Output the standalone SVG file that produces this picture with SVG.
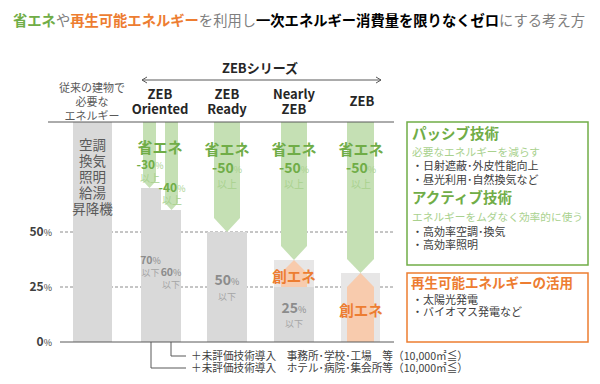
<svg xmlns="http://www.w3.org/2000/svg" width="600" height="384" viewBox="0 0 600 384">
<defs>
<style>
text{font-family:"Noto Sans CJK JP","Liberation Sans",sans-serif;}
.c{text-anchor:middle;}
.hd{font-size:13px;font-weight:bold;fill:#262626;}
.gt{fill:#70ad47;font-weight:bold;}
.gl{fill:#a9d18e;font-size:10px;}
.ot{fill:#ed7d31;font-weight:bold;}
.grt{fill:#8c8c8c;font-weight:bold;}
.grl{fill:#a6a6a6;font-size:9px;}
.ax{font-size:12px;font-weight:bold;fill:#404040;}
.pc{font-size:9px;font-weight:normal;}
.bar{fill:#d9d9d9;}
.barl{fill:#e7e6e6;}
.garr{fill:#c5e0b4;}
.oarr{fill:#f8cbad;}
.grid{stroke:#8c8c8c;stroke-width:1;stroke-dasharray:3 2;}
.ln{stroke:#595959;stroke-width:1;fill:none;}
.bx{font-size:11px;fill:#404040;}
.bl{font-size:10.7px;fill:#a9d18e;}
</style>
<marker id="chev" markerWidth="8" markerHeight="8" refX="6" refY="4" orient="auto-start-reverse" markerUnits="userSpaceOnUse">
<path d="M1,1 L6,4 L1,7" fill="none" stroke="#595959" stroke-width="1"/>
</marker>
</defs>
<rect width="600" height="384" fill="#ffffff"/>

<g id="title">
<text x="299" y="26" class="c" font-size="14.3" fill="#7f7f7f"><tspan fill="#70ad47" font-weight="bold">省エネ</tspan>や<tspan fill="#ed7d31" font-weight="bold">再生可能エネルギー</tspan>を利用し<tspan fill="#000000" font-weight="bold">一次エネルギー消費量を限りなくゼロ</tspan>にする考え方</text>
</g>

<g id="series-header">
<text x="260" y="73" class="c hd">ZEBシリーズ</text>
<text x="92" y="92" class="c" font-size="11" fill="#595959">従来の建物で</text>
<text x="92" y="106" class="c" font-size="11" fill="#595959">必要な</text>
<text x="92" y="120" class="c" font-size="11" fill="#595959">エネルギー</text>
<text x="160" y="99" class="c hd">ZEB</text>
<text x="160" y="114" class="c hd">Oriented</text>
<text x="227" y="99" class="c hd">ZEB</text>
<text x="227" y="114" class="c hd">Ready</text>
<text x="294" y="99" class="c hd">Nearly</text>
<text x="294" y="114" class="c hd">ZEB</text>
<text x="362" y="106" class="c hd">ZEB</text>
</g>

<g id="grid">
<line x1="60" y1="232" x2="395" y2="232" class="grid"/>
<line x1="60" y1="287" x2="395" y2="287" class="grid"/>
<text x="52" y="236" class="ax" text-anchor="end">50<tspan class="pc">%</tspan></text>
<text x="52" y="291" class="ax" text-anchor="end">25<tspan class="pc">%</tspan></text>
<text x="52" y="346" class="ax" text-anchor="end">0<tspan class="pc">%</tspan></text>
</g>

<g id="conventional">
<rect x="73" y="122" width="39" height="220" class="bar"/>
<text class="c" font-size="13.5" fill="#595959"><tspan x="92.5" y="150">空調</tspan><tspan x="92.5" y="166">換気</tspan><tspan x="92.5" y="182">照明</tspan><tspan x="92.5" y="198">給湯</tspan><tspan x="92.5" y="214">昇降機</tspan></text>
</g>

<g id="zeb-oriented">
<rect x="141" y="188" width="20" height="154" class="bar"/>
<rect x="161" y="210" width="20" height="132" class="bar"/>
<polygon points="143,122 156,122 156,181 149.5,188 143,181" class="garr"/>
<polygon points="165,122 178,122 178,203 171.5,210 165,203" class="garr"/>
<text x="160" y="153" class="c gt" font-size="15">省エネ</text>
<text x="150" y="169" class="c gt" font-size="12">-30<tspan class="pc" fill="#a9d18e">%</tspan></text>
<text x="150" y="182" class="c gl">以上</text>
<text x="172" y="192" class="c gt" font-size="12">-40<tspan class="pc" fill="#a9d18e">%</tspan></text>
<text x="172" y="204" class="c gl">以上</text>
<text x="150.5" y="264" class="c grt" font-size="10.5">70<tspan class="pc" font-size="8">%</tspan></text>
<text x="150.5" y="276" class="c grl">以下</text>
<text x="171" y="276" class="c grt" font-size="10.5">60<tspan class="pc" font-size="8">%</tspan></text>
<text x="171" y="288" class="c grl">以下</text>
</g>

<g id="zeb-ready">
<rect x="207" y="232" width="40" height="110" class="bar"/>
<polygon points="214,122 240,122 240,218 227,232 214,218" class="garr"/>
<text x="227" y="155" class="c gt" font-size="15">省エネ</text>
<text x="227" y="173" class="c gt" font-size="14">-50<tspan class="pc" font-size="10" fill="#a9d18e">%</tspan></text>
<text x="227" y="188" class="c gl" font-size="12">以上</text>
<text x="227" y="285" class="c grt" font-size="14">50<tspan class="pc" font-size="10">%</tspan></text>
<text x="227" y="300" class="c grl" font-size="12">以下</text>
</g>

<g id="nearly-zeb">
<rect x="274" y="260" width="40" height="27" class="barl"/>
<rect x="274" y="287" width="40" height="55" class="bar"/>
<polygon points="281,122 307,122 307,246 294,260 281,246" class="garr"/>
<polygon points="281,287 281,273 294,260 307,273 307,287" class="oarr"/>
<text x="294" y="155" class="c gt" font-size="15">省エネ</text>
<text x="294" y="173" class="c gt" font-size="14">-50<tspan class="pc" font-size="10" fill="#a9d18e">%</tspan></text>
<text x="294" y="188" class="c gl" font-size="12">以上</text>
<text x="294" y="282" class="c ot" font-size="14.5">創エネ</text>
<text x="294" y="313" class="c grt" font-size="14">25<tspan class="pc" font-size="10">%</tspan></text>
<text x="294" y="327" class="c grl" font-size="12">以下</text>
</g>

<g id="zeb">
<rect x="341" y="273" width="39" height="69" class="barl"/>
<polygon points="347,122 374,122 374,259 360.5,273 347,259" class="garr"/>
<polygon points="347,342 347,287 360.5,273 374,287 374,342" class="oarr"/>
<text x="361" y="155" class="c gt" font-size="15">省エネ</text>
<text x="361" y="173" class="c gt" font-size="14">-50<tspan class="pc" font-size="10" fill="#a9d18e">%</tspan></text>
<text x="361" y="188" class="c gl" font-size="12">以上</text>
<text x="361" y="316" class="c ot" font-size="14.5">創エネ</text>
</g>

<g id="connectors">
<line x1="48" y1="122" x2="394" y2="122" class="ln"/>
<line x1="60" y1="342" x2="394" y2="342" class="ln"/>
<line x1="142" y1="80" x2="381" y2="80" class="ln" marker-start="url(#chev)" marker-end="url(#chev)"/>
<polyline points="171,342 171,356 186,356" class="ln"/>
<polyline points="151,342 151,368 186,368" class="ln"/>
</g>

<g id="notes">
<text x="191" y="360" class="bx" font-size="10.5" textLength="277" lengthAdjust="spacingAndGlyphs">＋未評価技術導入　事務所･学校･工場　等（10,000㎡≦）</text>
<text x="191" y="372" class="bx" font-size="10.5" textLength="277" lengthAdjust="spacingAndGlyphs">＋未評価技術導入　ホテル･病院･集会所等（10,000㎡≦）</text>
</g>

<g id="passive-active-box">
<rect x="407" y="122" width="181" height="143" fill="#ffffff" stroke="#70ad47" stroke-width="1.5"/>
<text x="412" y="139" class="gt" font-size="14.5">パッシブ技術</text>
<text x="412" y="156" class="bl">必要なエネルギーを減らす</text>
<text x="412" y="170" class="bx">・日射遮蔽･外皮性能向上</text>
<text x="412" y="184" class="bx">・昼光利用･自然換気など</text>
<text x="412" y="203" class="gt" font-size="14.5">アクティブ技術</text>
<text x="412" y="221" class="bl">エネルギーをムダなく効率的に使う</text>
<text x="412" y="236" class="bx">・高効率空調･換気</text>
<text x="412" y="249" class="bx">・高効率照明</text>
</g>

<g id="renewable-box">
<rect x="407" y="273" width="181" height="69" fill="#ffffff" stroke="#ed7d31" stroke-width="1.5"/>
<text x="411" y="288" class="ot" font-size="13.5">再生可能エネルギーの活用</text>
<text x="412" y="304" class="bx">・太陽光発電</text>
<text x="412" y="316" class="bx">・バイオマス発電など</text>
</g>
</svg>
